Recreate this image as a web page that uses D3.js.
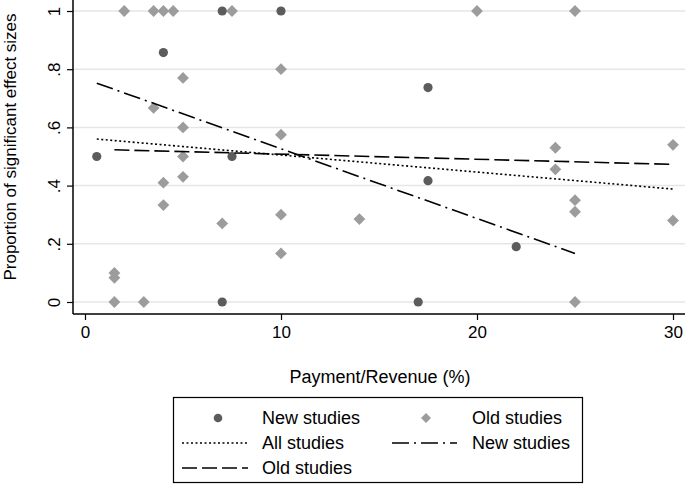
<!DOCTYPE html>
<html>
<head>
<meta charset="utf-8">
<script src="https://cdn.jsdelivr.net/npm/d3@7"></script>
<style>
  body { margin: 0; background: #fff; }
  svg { display: block; font-family: Arial, "Liberation Sans", Helvetica, sans-serif; }
</style>
</head>
<body>
<svg id="scatter" width="685" height="484"></svg>
<script>
// payment/revenue (%) and proportion of significant effect sizes
var newStudiesX = [0.6, 4, 7, 7, 7.5, 10, 17, 17.5, 17.5, 22];
var newStudiesY = [0.5, 0.857, 1, 0, 0.5, 1, 0, 0.737, 0.417, 0.19];

var oldStudiesX = [1.5, 1.5, 1.5, 2, 3, 3.5, 3.5, 4, 4, 4, 4.5, 5, 5, 5, 5, 7, 7.5, 10, 10, 10, 10, 14, 20, 24, 24, 25, 25, 25, 25, 30, 30];
var oldStudiesY = [0.1, 0.083, 0, 1, 0, 1, 0.667, 1, 0.41, 0.333, 1, 0.77, 0.6, 0.5, 0.43, 0.27, 1, 0.8, 0.575, 0.3, 0.167, 0.285, 1, 0.53, 0.456, 1, 0.35, 0.31, 0, 0.54, 0.28];

// fitted lines (end points)
var fitAllX = [0.6, 30];
var fitAllY = [0.56, 0.388];
var fitNewX = [0.6, 25];
var fitNewY = [0.752, 0.167];
var fitOldX = [1.5, 30];
var fitOldY = [0.523, 0.473];

var xTicks = [0, 10, 20, 30];
var yTicks = [0, 0.2, 0.4, 0.6, 0.8, 1];
var yTickLabels = ["0", ".2", ".4", ".6", ".8", "1"];

var svg = d3.select("svg#scatter");
var axisLeftX = 73, axisBottomY = 314, rightEdge = 685;

var x = d3.scaleLinear().domain([0, 30]).range([85, 673]);
var y = d3.scaleLinear().domain([0, 1]).range([302, 11]);

var circleColor = "#5c5c5c";
var diamondColor = "#9c9c9c";

// Grid lines
svg.append("g")
    .selectAll("line")
    .data(yTicks)
    .enter().append("line")
    .attr("x1", axisLeftX).attr("x2", rightEdge)
    .attr("y1", (d) => y(d)).attr("y2", (d) => y(d))
    .attr("stroke", "#e6e6e6")
    .attr("stroke-width", 1.5);

// Y Axis
var yAxis = svg.append("g")
    .attr("transform", "translate(" + axisLeftX + ",0)")
    .call(d3.axisLeft(y).tickValues(yTicks).tickSize(6)
        .tickFormat((d, i) => yTickLabels[i]));
yAxis.select(".domain").remove();
yAxis.selectAll(".tick line").attr("stroke", "#000").attr("stroke-width", 1.2);
yAxis.selectAll(".tick text")
    .attr("transform", "rotate(-90)")
    .attr("x", 0).attr("y", -13).attr("dy", 0)
    .style("text-anchor", "middle")
    .style("font-size", "17px")
    .attr("fill", "#000");

// X Axis
var xAxis = svg.append("g")
    .attr("transform", "translate(0," + axisBottomY + ")")
    .call(d3.axisBottom(x).tickValues(xTicks).tickSize(6).tickPadding(6));
xAxis.select(".domain").remove();
xAxis.selectAll(".tick line").attr("stroke", "#000").attr("stroke-width", 1.2);
xAxis.selectAll(".tick text")
    .style("font-size", "17px")
    .attr("fill", "#000");

// Axis lines
svg.append("line")
    .attr("x1", axisLeftX).attr("x2", axisLeftX)
    .attr("y1", 0).attr("y2", axisBottomY)
    .attr("stroke", "#000").attr("stroke-width", 1.5);
svg.append("line")
    .attr("x1", axisLeftX).attr("x2", rightEdge)
    .attr("y1", axisBottomY).attr("y2", axisBottomY)
    .attr("stroke", "#000").attr("stroke-width", 1.5);

// Axis titles
svg.append("text")
    .attr("transform", "translate(15.5,147) rotate(-90)")
    .style("text-anchor", "middle")
    .style("font-size", "17px")
    .text("Proportion of significant effect sizes");
svg.append("text")
    .attr("x", 380).attr("y", 383)
    .style("text-anchor", "middle")
    .style("font-size", "18px")
    .text("Payment/Revenue (%)");

// Markers
var diamond = d3.symbol().type(d3.symbolSquare).size(70);
svg.append("g")
    .selectAll("path")
    .data(d3.range(oldStudiesX.length))
    .enter().append("path")
    .attr("d", diamond)
    .attr("transform", (i) => "translate(" + x(oldStudiesX[i]) + "," + y(oldStudiesY[i]) + ") rotate(45)")
    .attr("fill", diamondColor);

svg.append("g")
    .selectAll("circle")
    .data(d3.range(newStudiesX.length))
    .enter().append("circle")
    .attr("cx", (i) => x(newStudiesX[i]))
    .attr("cy", (i) => y(newStudiesY[i]))
    .attr("r", 4.6)
    .attr("fill", circleColor);

// Fitted lines
var line = d3.line()
    .x((d) => x(d[0]))
    .y((d) => y(d[1]));

var fits = [
    { xs: fitAllX, ys: fitAllY, dash: "2,2.5" },
    { xs: fitNewX, ys: fitNewY, dash: "17,5,2,5" },
    { xs: fitOldX, ys: fitOldY, dash: "15,5" }
];
fits.forEach(function(f) {
    svg.append("path")
        .datum(d3.zip(f.xs, f.ys))
        .attr("d", line)
        .attr("fill", "none")
        .attr("stroke", "#000")
        .attr("stroke-width", 1.6)
        .attr("stroke-dasharray", f.dash);
});

// Legend
var legend = svg.append("g");
legend.append("rect")
    .attr("x", 173.5).attr("y", 397.5)
    .attr("width", 409).attr("height", 85)
    .attr("fill", "#fff")
    .attr("stroke", "#000").attr("stroke-width", 1.2);

var rowY = [418, 443, 468];
legend.append("circle")
    .attr("cx", 218).attr("cy", rowY[0]).attr("r", 4.3)
    .attr("fill", circleColor);
legend.append("path")
    .attr("d", d3.symbol().type(d3.symbolSquare).size(50))
    .attr("transform", "translate(426," + rowY[0] + ") rotate(45)")
    .attr("fill", diamondColor);

var legendLines = [
    { x1: 182, x2: 248, y: rowY[1], dash: "2,2.5" },
    { x1: 392, x2: 457, y: rowY[1], dash: "17,5,2,5" },
    { x1: 182, x2: 248, y: rowY[2], dash: "15,5" }
];
legendLines.forEach(function(l) {
    legend.append("line")
        .attr("x1", l.x1).attr("x2", l.x2)
        .attr("y1", l.y).attr("y2", l.y)
        .attr("stroke", "#000").attr("stroke-width", 1.6)
        .attr("stroke-dasharray", l.dash);
});

var legendLabels = [
    { x: 262, y: rowY[0], t: "New studies" },
    { x: 472, y: rowY[0], t: "Old studies" },
    { x: 262, y: rowY[1], t: "All studies" },
    { x: 472, y: rowY[1], t: "New studies" },
    { x: 262, y: rowY[2], t: "Old studies" }
];
legend.selectAll("text.lab")
    .data(legendLabels)
    .enter().append("text")
    .attr("class", "lab")
    .attr("x", (d) => d.x).attr("y", (d) => d.y)
    .attr("dy", "0.36em")
    .style("font-size", "18px")
    .text((d) => d.t);
</script>
</body>
</html>
